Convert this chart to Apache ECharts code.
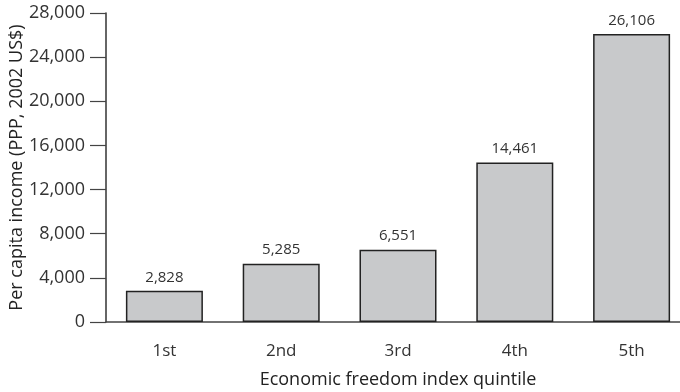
<!DOCTYPE html>
<html>
<head>
<meta charset="utf-8">
<script src="https://cdn.jsdelivr.net/npm/echarts@6/dist/echarts.min.js"></script>
<style>
  html, body { margin: 0; padding: 0; background: #fff; }
  #chart { width: 680px; height: 392px; }
</style>
</head>
<body>
<div id="chart"></div>
<script>
// Per capita income by economic freedom quintile
const quintiles = ['1st', '2nd', '3rd', '4th', '5th'];
const incomes = [2828, 5285, 6551, 14461, 26106];
const yTicks = [0, 4000, 8000, 12000, 16000, 20000, 24000, 28000];

const FONT = '"Open Sans", "Noto Sans", sans-serif';
const fmt = v => v.toLocaleString('en-US');

const chart = echarts.init(document.getElementById('chart'), null, { renderer: 'canvas' });
chart.setOption({
  animation: false,
  grid: { left: 106, width: 584, top: 13, bottom: 70, containLabel: false, outerBoundsMode: 'none' },
  xAxis: {
    type: 'category',
    data: quintiles,
    name: 'Economic freedom index quintile',
    nameLocation: 'middle',
    nameGap: 49,
    nameMoveOverlap: false,
    nameTextStyle: { fontFamily: FONT, fontSize: 18, color: '#222' },
    axisLine: { show: true, lineStyle: { color: '#444', width: 1.5 } },
    axisTick: { show: false },
    axisLabel: { margin: 21, fontFamily: FONT, fontSize: 17, color: '#333' }
  },
  yAxis: {
    type: 'value',
    min: yTicks[0],
    max: yTicks[yTicks.length - 1],
    interval: 4000,
    name: 'Per capita income (PPP, 2002 US$)',
    nameLocation: 'middle',
    nameGap: 80,
    nameMoveOverlap: false,
    nameTextStyle: { fontFamily: FONT, fontSize: 18, color: '#222' },
    axisLine: { show: true, lineStyle: { color: '#333', width: 1.5 } },
    axisTick: { show: true, length: 16, lineStyle: { color: '#444', width: 1.2 } },
    axisLabel: { margin: 21, fontFamily: FONT, fontSize: 18, color: '#333', formatter: fmt },
    splitLine: { show: false }
  },
  series: [{
    type: 'bar',
    data: incomes,
    barWidth: 77,
    itemStyle: { color: '#c8c9cb', borderColor: '#222', borderWidth: 1.5 },
    label: {
      show: true,
      position: 'top',
      distance: 6,
      fontFamily: FONT,
      fontSize: 15,
      color: '#333',
      formatter: p => fmt(p.value)
    }
  }]
});
</script>
</body>
</html>
